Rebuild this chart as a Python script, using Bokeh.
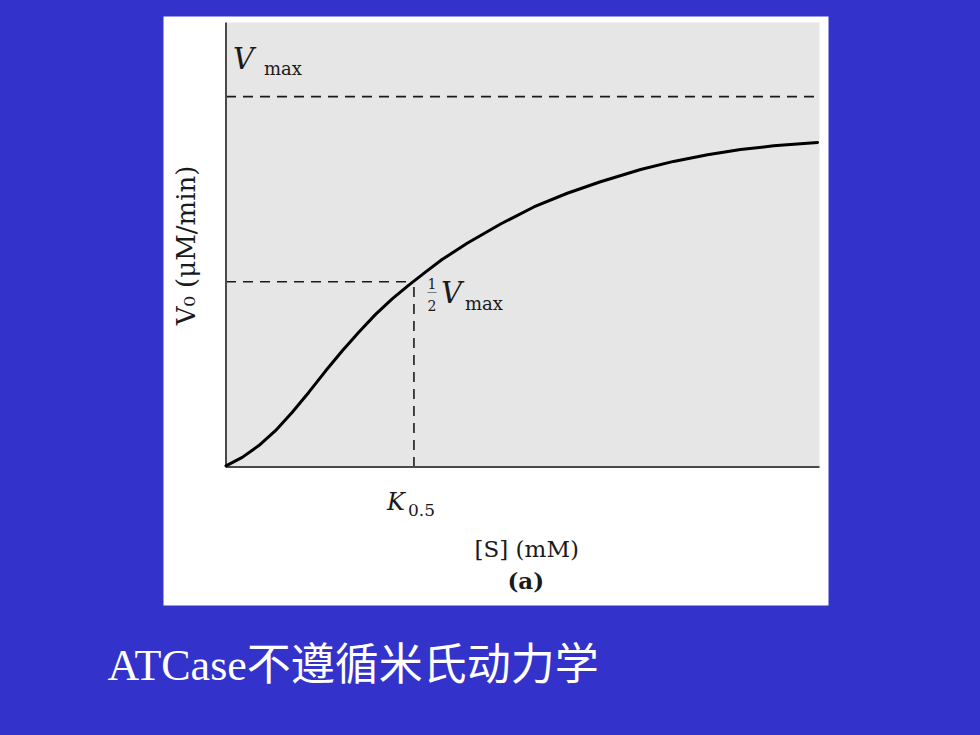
import math
from jinja2 import Template
from bokeh.plotting import figure
from bokeh.models import Range1d, Label
from bokeh.embed import file_html
from bokeh.resources import INLINE

# ---------------- data ----------------
S_mM = [0.0, 0.82, 1.66, 2.50, 3.35, 4.19, 5.03, 5.87, 6.71, 7.56, 8.40,
        9.24, 10.08, 10.92, 12.19, 13.88, 15.56, 17.25, 18.93, 20.96,
        22.62, 24.34, 26.01, 27.68, 29.9]
V0 = [0.3, 2.6, 5.8, 9.8, 14.8, 20.2, 25.9, 31.3, 36.4, 41.2, 45.4,
      49.1, 52.6, 56.0, 60.4, 65.6, 70.2, 73.9, 77.0, 80.3,
      82.5, 84.3, 85.7, 86.7, 87.6]
VMAX = 100.0
K05 = 9.5
X_MAX = 30.0
Y_MAX = 120.0

BLUE = "#3333CC"
GREY = "#E6E6E6"
INK = "#1a1a1a"
SERIF = "DejaVu Serif"

# ---------------- layout (page pixels) ----------------
W, H = 980, 735
AX_L, AX_R, AX_T, AX_B = 225.5, 819.0, 22.0, 466.5      # grey plot area
PANEL = (163, 828, 16, 605)                            # white panel l, r, t, b
PPX = (AX_R - AX_L) / X_MAX
PPY = (AX_B - AX_T) / Y_MAX


def dx(px):
    return (px - AX_L) / PPX


def dy(py):
    return (AX_B - py) / PPY


p = figure(width=W, height=H, output_backend="svg", toolbar_location=None,
           x_range=Range1d(dx(0), dx(W)), y_range=Range1d(dy(H), dy(0)),
           min_border=0, border_fill_color=BLUE, background_fill_color=BLUE,
           outline_line_color=None, x_axis_location=None, y_axis_location=None)
p.grid.visible = False

# white panel and grey plot area
p.quad(left=dx(PANEL[0]), right=dx(PANEL[1]), top=dy(PANEL[2]),
       bottom=dy(PANEL[3]), fill_color="white", line_color=None)
p.quad(left=0, right=X_MAX, bottom=0, top=Y_MAX, fill_color=GREY,
       line_color=None)

# dashed reference lines
DASH = "10 7"
p.segment(x0=[0, 0, K05], y0=[VMAX, VMAX / 2, 0],
          x1=[X_MAX, K05, K05], y1=[VMAX, VMAX / 2, VMAX / 2],
          line_color=INK, line_width=1.6, line_dash=DASH)

# axis spines (left and bottom)
p.segment(x0=[0, 0], y0=[0, 0], x1=[0, X_MAX], y1=[Y_MAX, 0],
          line_color="#4a4a4a", line_width=2)

# curve
p.line(S_mM, V0, line_color="black", line_width=3, line_join="round",
       line_cap="round")


def lab(text, x, y, ox, oy, size, style="normal", font=SERIF, color=INK,
        align="left", baseline="alphabetic", angle=0.0, shift=True):
    # compensation for how the alphabetic baseline is placed
    extra = 0.36 * size if shift else 0
    p.add_layout(Label(x=x, y=y, x_offset=ox, y_offset=oy + extra,
                       text=text, text_font=font, text_font_size=f"{size}px",
                       text_font_style=style, text_color=color,
                       text_align=align, text_baseline=baseline, angle=angle))


# V_max label (top-left)
lab("V", 0, VMAX, 7, 27, 29, "italic")
lab("max", 0, VMAX, 38, 22, 18)

# 1/2 V_max label
lab("1", K05, VMAX / 2, 18, -7, 14, align="center")
lab("\u2014", K05, VMAX / 2, 18, -13.5, 10, align="center")
lab("2", K05, VMAX / 2, 18, -28.5, 14, align="center")
lab("V", K05, VMAX / 2, 27, -21.5, 29, "italic")
lab("max", K05, VMAX / 2, 51, -28.5, 18)

# K_0.5 label below the axis
lab("K", K05, 0, -27, -43.5, 24, "italic")
lab("0.5", K05, 0, -6, -49.5, 17)

# x axis title and panel tag
lab("[S] (mM)", X_MAX / 2, 0, 4, -90, 23, align="center")
lab("(a)", X_MAX / 2, 0, 3, -121.5, 23, "bold", align="center")

# y axis title
lab("V\u2080 (\u03bcM/min)", 0, dy(245), -40.5, 0, 26, angle=math.pi / 2,
    align="center", baseline="middle", shift=False)

# slide caption
lab("ATCase不遵循米氏动力学", 0, 0, -118.5, -214.5, 44,
    font="'Liberation Serif', 'Noto Sans CJK SC'", color="white")

TEMPLATE = Template("""<!DOCTYPE html>
<html lang="en">
<head>
<meta charset="utf-8">
<title>{{ title }}</title>
<style>html, body { margin: 0; padding: 0; background: #3333CC; overflow: hidden; }</style>
{{ bokeh_css }}
{{ bokeh_js }}
</head>
<body>
{{ plot_div }}
{{ plot_script }}
</body>
</html>
""")

open("out.html", "w").write(file_html(p, INLINE, template=TEMPLATE))
